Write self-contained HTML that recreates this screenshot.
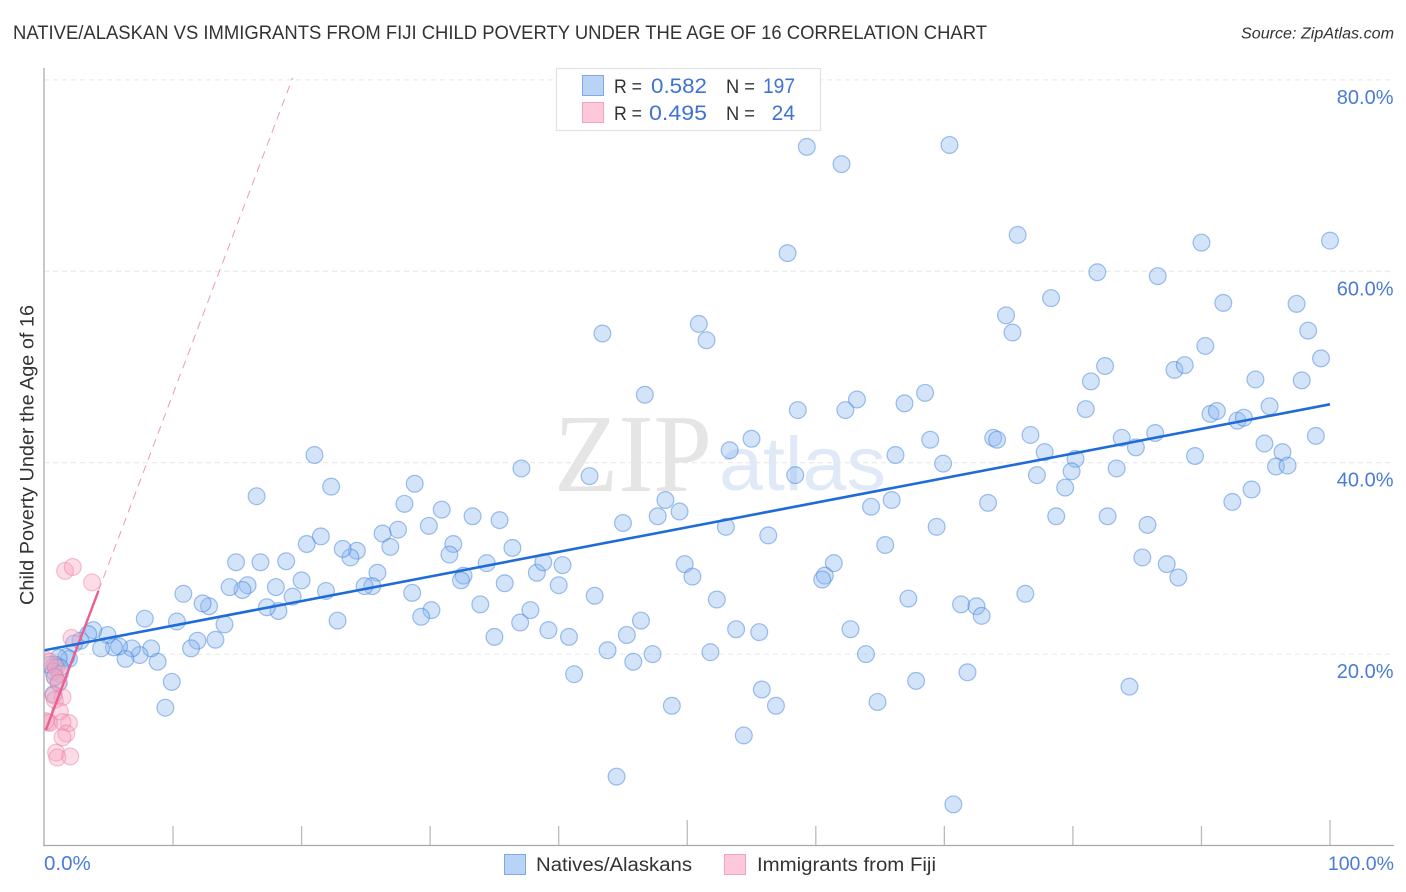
<!DOCTYPE html>
<html lang="en">
<head>
<meta charset="utf-8">
<title>Child Poverty Under the Age of 16 Correlation Chart</title>
<style>
html,body{margin:0;padding:0;background:#fff;}
svg{display:block;font-family:"Liberation Sans",sans-serif;}
</style>
</head>
<body>
<svg id="chart" xmlns="http://www.w3.org/2000/svg" width="1406" height="892" viewBox="0 0 1406 892">
  <defs><clipPath id="plot-clip"><rect x="44.5" y="60" width="1360" height="786"/></clipPath></defs>
  <text x="13" y="39" font-size="19.5" fill="#333" textLength="974" lengthAdjust="spacingAndGlyphs">NATIVE/ALASKAN VS IMMIGRANTS FROM FIJI CHILD POVERTY UNDER THE AGE OF 16 CORRELATION CHART</text>
  <text x="1241" y="38.5" font-size="15.5" font-style="italic" fill="#333" textLength="153" lengthAdjust="spacingAndGlyphs">Source: ZipAtlas.com</text>
  <g>
    <text x="554" y="491" font-family="'Liberation Serif',serif" font-size="111" fill="#e5e5e5" textLength="158" lengthAdjust="spacingAndGlyphs">ZIP</text>
    <text x="719" y="490" font-family="'Liberation Sans',sans-serif" font-size="76" fill="#e0e9f8" textLength="167" lengthAdjust="spacingAndGlyphs">atlas</text>
  </g>
  <g id="grid"></g>
  <g id="axes"></g>
  <g clip-path="url(#plot-clip)">
    <g id="blue-points"></g>
    <g id="pink-points"></g>
    <g id="trends"></g>
  </g>
  <g id="ylabels"></g>
  <text transform="translate(33.5,605) rotate(-90)" font-size="19" fill="#333" textLength="300" lengthAdjust="spacingAndGlyphs">Child Poverty Under the Age of 16</text>
  <text x="44" y="870" font-size="20.5" fill="#4a7bd6">0.0%</text>
  <text x="1394" y="870" font-size="19.5" fill="#4a7bd6" text-anchor="end">100.0%</text>

  <g>
    <rect x="556.5" y="68.5" width="264" height="62" fill="#fff" stroke="#e2e2e2" stroke-width="1.2"/>
    <rect x="582.5" y="75.5" width="21" height="20" fill="#b9d3f6" stroke="#7fa9e6" stroke-width="1"/>
    <rect x="582.5" y="102.5" width="21" height="20" fill="#fdc9da" stroke="#f3a3bd" stroke-width="1"/>
    <text x="614" y="93" font-size="19.5" fill="#333" textLength="28" lengthAdjust="spacingAndGlyphs">R =</text>
    <text x="651" y="93" font-size="21" fill="#3f72d2" textLength="56" lengthAdjust="spacingAndGlyphs">0.582</text>
    <text x="726" y="93" font-size="19.5" fill="#333" textLength="29" lengthAdjust="spacingAndGlyphs">N =</text>
    <text x="763" y="93" font-size="21" fill="#3f72d2" textLength="32" lengthAdjust="spacingAndGlyphs">197</text>
    <text x="614" y="120" font-size="19.5" fill="#333" textLength="28" lengthAdjust="spacingAndGlyphs">R =</text>
    <text x="649" y="120" font-size="21" fill="#3f72d2" textLength="58" lengthAdjust="spacingAndGlyphs">0.495</text>
    <text x="726" y="120" font-size="19.5" fill="#333" textLength="29" lengthAdjust="spacingAndGlyphs">N =</text>
    <text x="795" y="120" font-size="21" fill="#3f72d2" text-anchor="end">24</text>
  </g>

  <g>
    <rect x="504.5" y="854.5" width="21" height="20" fill="#b9d3f6" stroke="#7fa9e6" stroke-width="1"/>
    <text x="536" y="871" font-size="19" fill="#333" textLength="156" lengthAdjust="spacingAndGlyphs">Natives/Alaskans</text>
    <rect x="724.5" y="854.5" width="21" height="20" fill="#fdc9da" stroke="#f3a3bd" stroke-width="1"/>
    <text x="757" y="871" font-size="19" fill="#333" textLength="179" lengthAdjust="spacingAndGlyphs">Immigrants from Fiji</text>
  </g>
</svg>
<script>
const blueX = [59.3,62.0,70.4,57.8,75.7,90.0,100.0,81.9,86.6,78.3,91.7,97.4,74.8,75.3,98.3,43.4,50.9,51.5,90.3,99.3,82.5,87.9,88.7,81.4,94.2,97.8,46.7,68.5,63.2,66.9,62.3,58.6,81.0,90.7,91.2,95.3,92.8,93.3,76.7,86.4,83.8,84.9,73.8,74.1,68.9,55.0,53.3,77.8,66.2,80.2,89.5,94.9,96.3,98.9,95.8,96.7,83.4,79.9,69.9,58.4,77.2,79.4,93.9,92.4,73.4,65.9,64.3,48.3,49.4,47.7,45.0,42.4,37.1,78.7,82.7,85.8,69.4,53.0,56.3,65.4,85.4,87.3,88.2,76.3,61.4,60.7,60.5,49.8,50.4,52.3,67.2,71.3,72.5,72.9,62.7,63.9,53.8,55.6,51.8,47.3,46.4,45.3,43.8,45.8,41.2,40.8,42.8,39.2,37.8,37.0,35.0,33.9,35.8,38.3,38.8,40.3,40.0,36.4,34.4,35.4,33.3,30.9,31.8,31.5,32.6,32.4,30.1,29.3,28.6,29.9,28.8,28.0,27.5,26.3,26.9,25.9,25.5,24.9,24.3,23.8,23.2,21.5,20.4,22.3,21.0,16.5,22.8,21.9,20.0,19.3,18.8,18.0,18.2,17.3,16.8,15.8,15.4,14.4,14.9,14.0,13.3,12.8,12.3,11.9,11.4,10.8,10.3,9.9,9.4,8.8,8.3,7.8,7.4,6.8,6.3,5.8,5.4,4.9,4.4,3.8,3.4,2.8,2.3,1.9,1.7,1.1,1.2,0.8,0.7,0.4,0.7,0.8,1.1,54.4,48.8,44.5,55.8,56.9,64.8,67.8,71.8,70.7,84.4];
const blueY = [73.0,71.2,73.2,61.9,63.8,63.0,63.2,59.9,59.5,57.2,56.7,56.6,55.4,53.6,53.8,53.5,54.5,52.8,52.2,50.9,50.1,49.7,50.2,48.5,48.7,48.6,47.1,47.3,46.6,46.2,45.5,45.5,45.6,45.1,45.4,45.9,44.4,44.7,42.9,43.1,42.6,41.6,42.6,42.4,42.4,42.5,41.3,41.1,40.8,40.4,40.7,42.0,41.1,42.8,39.6,39.7,39.4,39.1,39.9,38.7,38.7,37.4,37.2,35.9,35.8,36.1,35.4,36.1,34.9,34.4,33.7,38.6,39.4,34.4,34.4,33.5,33.3,33.3,32.4,31.4,30.1,29.4,28.0,26.3,29.5,28.2,27.8,29.4,28.1,25.7,25.8,25.2,25.0,24.0,22.6,20.0,22.6,22.3,20.2,20.0,23.5,22.0,20.4,19.2,17.9,21.8,26.1,22.5,24.6,23.3,21.8,25.2,27.4,28.5,29.6,29.3,27.2,31.1,29.5,34.0,34.4,35.1,31.5,30.4,28.2,27.7,24.6,23.9,26.4,33.4,37.8,35.7,33.0,32.6,31.2,28.5,27.1,27.1,30.8,30.1,31.0,32.3,31.5,37.5,40.8,36.5,23.5,26.6,27.7,26.0,29.7,27.0,24.5,24.9,29.6,27.2,26.7,27.0,29.6,23.1,21.5,25.0,25.3,21.4,20.6,26.3,23.4,17.1,14.4,19.2,20.6,23.7,19.9,20.6,19.5,20.8,20.7,22.0,20.6,22.5,22.1,21.4,21.1,19.5,19.7,19.6,18.6,18.9,18.2,18.9,15.8,17.6,17.0,11.5,14.6,7.2,16.3,14.6,15.0,17.2,18.1,4.3,16.6];
const pinkX = [1.6,2.2,3.7,2.1,0.1,0.4,0.9,1.2,0.8,1.1,0.7,1.4,0.8,1.2,0.3,0.4,0.1,1.9,1.4,1.7,1.4,0.9,1.0,2.0];
const pinkY = [28.7,29.1,27.5,21.7,19.4,19.2,18.6,17.9,17.6,17.0,15.7,15.5,15.2,14.0,12.9,12.8,13.0,12.8,12.9,11.7,11.3,9.7,9.2,9.3];
const gridValues = [20,40,60,80];
const yTickLabels = ["20.0%","40.0%","60.0%","80.0%"];
const xTickValues = [10,20,30,40,50,60,70,80,90,100];
const blueTrend = [20.4,0.257];
const pinkTrend = [11.7,3.55];
const pinkSolidRange = [0.1,4.2];
const pinkDashedRange = [4.2,19.3];
const blueRange = [0,100];

const NS = 'http://www.w3.org/2000/svg';
function sx(v){return 44.5 + v*12.855;}
function sy(v){return 845.5 - v*9.57;}
function make(parent,tag,attrs){
  const el=document.createElementNS(NS,tag);
  for(const k in attrs){el.setAttribute(k,attrs[k]);}
  document.getElementById(parent).appendChild(el);
  return el;
}
gridValues.forEach(function(v,i){
  const line=make('grid','line',{x1:44,x2:1394,y1:sy(v),y2:sy(v),stroke:'#e6e6e6','stroke-width':1,'stroke-dasharray':'5 4'});
  
  
  const label=make('ylabels','text',{x:1393.5,y:sy(v)+24,'font-size':20,fill:'#4a7bd6','text-anchor':'end'});
  label.textContent=yTickLabels[i];
  
  
});
const yAxis=make('axes','line',{x1:44,x2:44,y1:68,y2:846,stroke:'#aaa','stroke-width':1.3});


const xAxis=make('axes','line',{x1:43,x2:1394,y1:845.5,y2:845.5,stroke:'#aaa','stroke-width':1.3});


xTickValues.forEach(function(v){
  const top=(v%50===0)?820:826;
  const tick=make('axes','line',{x1:sx(v),x2:sx(v),y1:top,y2:845,stroke:'#bbb','stroke-width':1.3});
  
  
});
blueX.forEach(function(x,i){
  const c=make('blue-points','circle',{cx:sx(x),cy:sy(blueY[i]),r:8.4,fill:'rgba(140,183,240,0.38)',stroke:'rgba(58,125,218,0.48)','stroke-width':1.2});
  
  
});
pinkX.forEach(function(x,i){
  const c=make('pink-points','circle',{cx:sx(x),cy:sy(pinkY[i]),r:8.4,fill:'rgba(248,165,192,0.38)',stroke:'rgba(236,125,162,0.48)','stroke-width':1.2});
  
  
});
function trendY(t,x){return t[0]+t[1]*x;}
const dashed=make('trends','line',{x1:sx(pinkDashedRange[0]),y1:sy(trendY(pinkTrend,pinkDashedRange[0])),x2:sx(pinkDashedRange[1]),y2:sy(trendY(pinkTrend,pinkDashedRange[1])),stroke:'#eb9ab6','stroke-width':1,'stroke-dasharray':'8 6'});


const pinkLine=make('trends','line',{x1:sx(pinkSolidRange[0]),y1:sy(trendY(pinkTrend,pinkSolidRange[0])),x2:sx(pinkSolidRange[1]),y2:sy(trendY(pinkTrend,pinkSolidRange[1])),stroke:'#e8608f','stroke-width':2.4});


const blueLine=make('trends','line',{x1:sx(blueRange[0]),y1:sy(trendY(blueTrend,blueRange[0])),x2:sx(blueRange[1]),y2:sy(trendY(blueTrend,blueRange[1])),stroke:'#1f6cd8','stroke-width':2.6});


</script>
</body>
</html>
